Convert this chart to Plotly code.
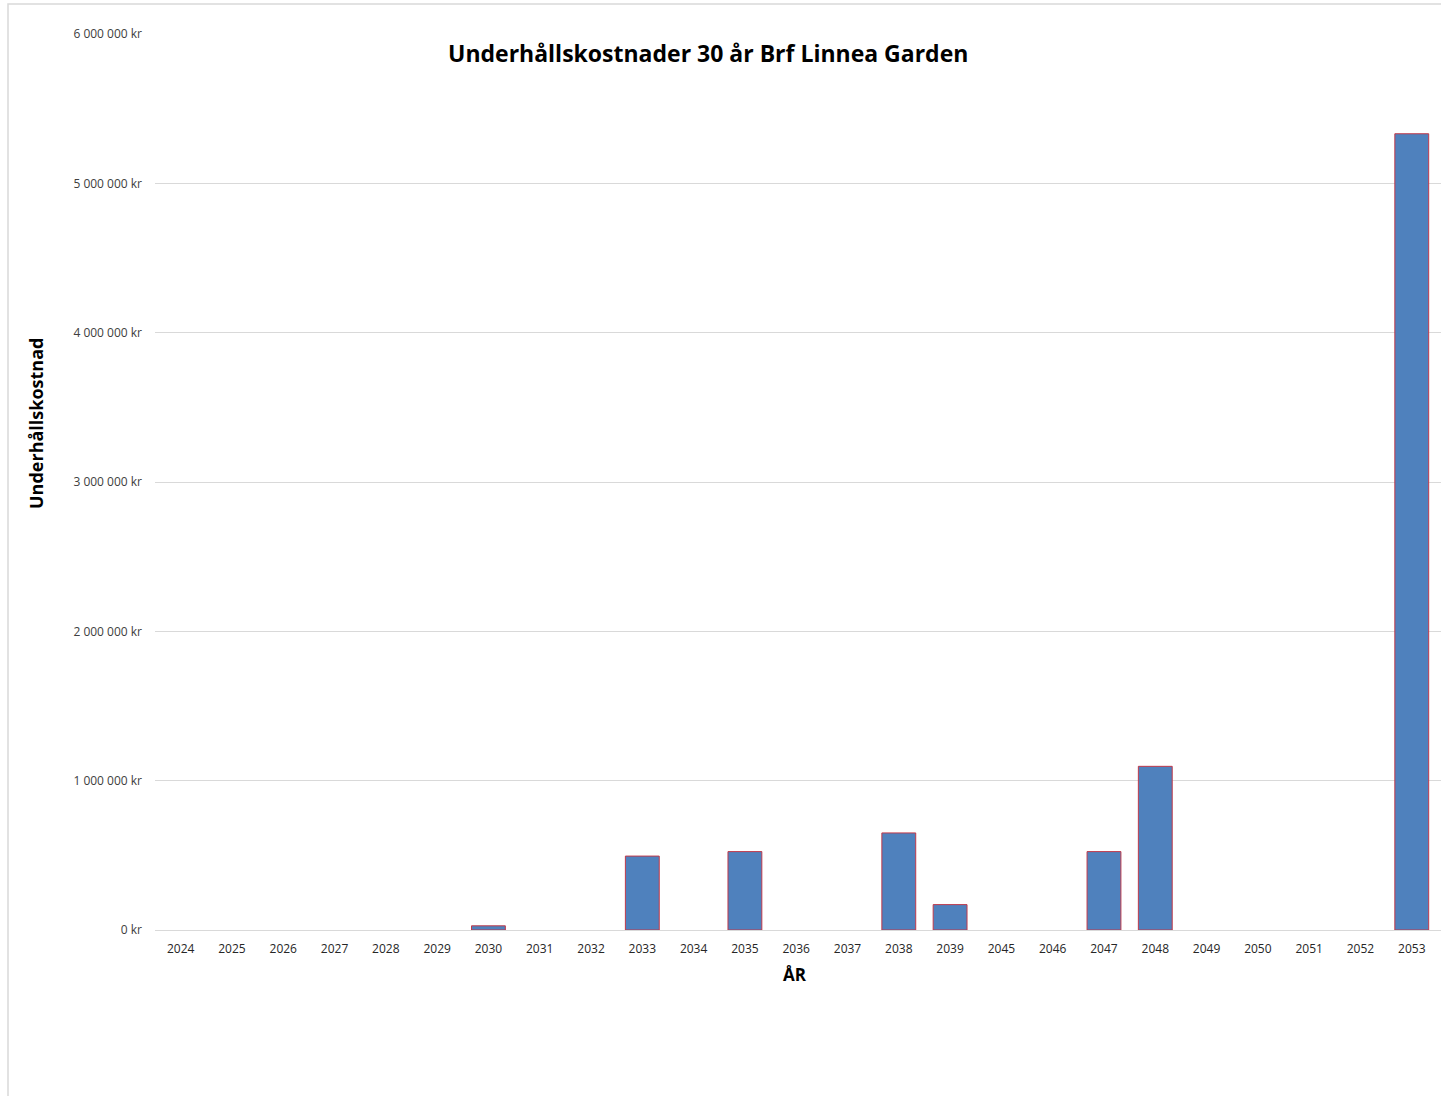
import plotly.graph_objects as go

# Underhållskostnader per år (kr)
years = ["2024", "2025", "2026", "2027", "2028", "2029", "2030", "2031", "2032",
         "2033", "2034", "2035", "2036", "2037", "2038", "2039", "2045", "2046",
         "2047", "2048", "2049", "2050", "2051", "2052", "2053"]
costs = [0, 0, 0, 0, 0, 0, 28000, 0, 0,
         495000, 0, 525000, 0, 0, 650000, 170000, 0, 0,
         525000, 1096000, 0, 0, 0, 0, 5332000]

y_tick_values = [0, 1000000, 2000000, 3000000, 4000000, 5000000, 6000000]
y_tick_labels = ["0 kr", "1 000 000 kr", "2 000 000 kr", "3 000 000 kr",
                 "4 000 000 kr", "5 000 000 kr", "6 000 000 kr"]

W, H = 1441, 1096
L, R, T, B = 155, 0, 34, 166
PW, PH = W - L - R, H - T - B


def px_x(x):
    return (x - L) / PW


def px_y(y):
    return (H - B - y) / PH


FONT = "Open Sans, Lato, sans-serif"

# empty years get no outline so nothing is drawn for them
outline_widths = [1 if c > 0 else 0 for c in costs]

fig = go.Figure(
    go.Bar(
        x=years,
        y=costs,
        marker=dict(color="#4F81BD", line=dict(color="#C0394A", width=outline_widths)),
        hovertemplate="%{x}: %{y:,.0f} kr<extra></extra>",
    )
)

fig.update_layout(
    width=W,
    height=H,
    margin=dict(l=L, r=R, t=T, b=B, pad=0),
    paper_bgcolor="white",
    plot_bgcolor="white",
    bargap=0.34,
    showlegend=False,
    font=dict(family=FONT, color="#404040"),
    xaxis=dict(
        type="category",
        range=[-0.5, len(years) - 0.43],
        showgrid=False,
        showline=True,
        linecolor="#d9d9d9",
        linewidth=1,
        ticks="",
        tickfont=dict(size=12, color="#262626"),
        ticklabelstandoff=8,
    ),
    yaxis=dict(
        range=[0, 6000000],
        tickvals=y_tick_values,
        ticktext=y_tick_labels,
        showgrid=True,
        gridcolor="#d9d9d9",
        gridwidth=1,
        zeroline=False,
        showline=False,
        ticks="",
        tickfont=dict(size=12, color="#404040"),
        ticklabelstandoff=12,
    ),
    shapes=[
        # chart frame
        dict(type="rect", xref="paper", yref="paper",
             x0=px_x(8), x1=px_x(1500), y0=px_y(1200), y1=px_y(4),
             line=dict(color="#d9d9d9", width=1.5), fillcolor="rgba(0,0,0,0)",
             layer="below"),
    ],
    annotations=[
        dict(text="<b>Underhållskostnader 30 år Brf Linnea Garden</b>",
             xref="paper", yref="paper", x=px_x(708), y=px_y(53),
             xanchor="center", yanchor="middle", showarrow=False,
             font=dict(size=23, color="#000000", family=FONT)),
        dict(text="<b>Underhållskostnad</b>",
             xref="paper", yref="paper", x=px_x(36), y=px_y(424),
             xanchor="center", yanchor="middle", showarrow=False, textangle=-90,
             font=dict(size=18, color="#000000", family=FONT)),
        dict(text="<b>ÅR</b>",
             xref="paper", yref="paper", x=px_x(795), y=px_y(975),
             xanchor="center", yanchor="middle", showarrow=False,
             font=dict(size=17, color="#000000", family=FONT)),
    ],
)

fig.write_html("out.html")
